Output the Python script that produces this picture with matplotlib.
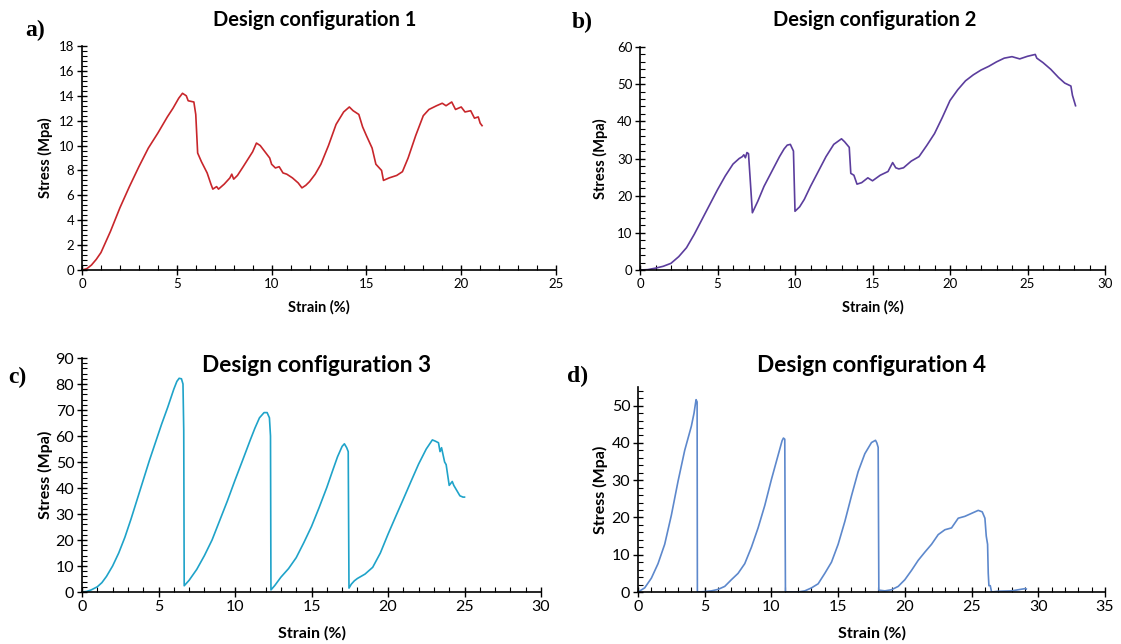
import matplotlib
matplotlib.use("Agg")
import matplotlib.pyplot as plt
from matplotlib.ticker import MultipleLocator, AutoMinorLocator

plt.rcParams['font.family'] = ['Lato', 'DejaVu Sans']

# ---- data ----
strain_1 = [0, 0.25, 0.5, 0.75, 1.0, 1.5, 2.0, 2.5, 3.0, 3.5, 4.0, 4.5, 4.8, 5.1, 5.3, 5.5, 5.6, 5.9, 6.0, 6.1, 6.3, 6.6,
            6.8, 6.9, 7.1, 7.2, 7.5, 7.8, 7.9, 8.0, 8.2, 8.5, 9.0, 9.2, 9.4, 9.7, 9.9, 10.0, 10.2, 10.4,
            10.6, 10.8, 11.1, 11.4, 11.6, 11.8, 12.0, 12.3, 12.6, 13.0, 13.4, 13.8, 14.1, 14.3, 14.6,
            14.8, 15.0, 15.3, 15.5, 15.8, 15.9, 16.2, 16.6, 16.9, 17.2, 17.6, 18.0, 18.3, 18.7, 19.0,
            19.2, 19.5, 19.7, 20.0, 20.2, 20.5, 20.7, 20.9, 21.0, 21.1]
stress_1 = [0, 0.1, 0.4, 0.85, 1.4, 3.1, 5.0, 6.7, 8.3, 9.8, 11.0, 12.3, 13.0, 13.8, 14.2, 14.0, 13.6, 13.5, 12.5, 9.4, 8.7, 7.8,
            6.9, 6.5, 6.7, 6.5, 6.9, 7.4, 7.7, 7.3, 7.6, 8.3, 9.5, 10.2, 10.0, 9.4, 9.0, 8.5, 8.2, 8.3,
            7.8, 7.7, 7.4, 7.0, 6.6, 6.8, 7.1, 7.7, 8.5, 10.0, 11.7, 12.7, 13.1, 12.8, 12.5,
            11.5, 10.8, 9.8, 8.5, 8.0, 7.2, 7.4, 7.6, 7.9, 9.0, 10.8, 12.4, 12.9, 13.2, 13.4,
            13.2, 13.5, 12.9, 13.1, 12.7, 12.8, 12.2, 12.3, 11.8, 11.6]

strain_2 = [0, 0.5, 1.0, 1.5, 2.0, 2.5, 3.0, 3.5, 4.0, 4.5, 5.0, 5.5, 6.0, 6.4, 6.6, 6.7, 6.8, 6.9, 7.0, 7.1,
            7.25, 7.6, 8.0, 8.5, 9.0, 9.3, 9.5, 9.7, 9.9, 10.0, 10.3, 10.6, 11.0, 11.5, 12.0, 12.5, 13.0, 13.2, 13.5, 13.6, 13.8,
            14.0, 14.3, 14.7, 15.0, 15.5, 16.0, 16.3, 16.5, 16.7, 17.0, 17.5, 18.0, 18.5, 19.0, 19.5, 20.0, 20.5, 21.0,
            21.5, 22.0, 22.5, 23.0, 23.5, 24.0, 24.5, 25.0, 25.5, 25.6, 26.0, 26.5, 27.0, 27.4, 27.8, 27.9, 28.1]
stress_2 = [0, 0.1, 0.5, 1.0, 1.8, 3.6, 6.0, 9.6, 13.6, 17.6, 21.6, 25.3, 28.5, 30.0, 30.5, 31.0, 30.2, 31.6, 31.3, 25.0,
            15.4, 18.5, 22.5, 26.5, 30.5, 32.6, 33.6, 33.8, 32.0, 15.8, 17.0, 19.0, 22.5, 26.5, 30.5, 33.8, 35.3, 34.5, 33.0, 26.0, 25.5,
            23.1, 23.5, 24.8, 24.0, 25.5, 26.5, 28.9, 27.5, 27.2, 27.5, 29.3, 30.5, 33.5, 36.7, 41.0, 45.6, 48.5, 50.9,
            52.5, 53.8, 54.8, 56.0, 57.0, 57.4, 56.8, 57.5, 58.0, 57.0, 55.8, 54.0, 51.8, 50.3, 49.5, 47.0, 44.2]

strain_3 = [0, 0.3, 0.6, 1.0, 1.3, 1.6, 2.0, 2.4, 2.8, 3.2, 3.6, 4.0, 4.4, 4.8, 5.2, 5.6, 5.8, 6.0, 6.2, 6.35,
            6.5, 6.6, 6.65, 6.68,
            7.0, 7.5, 8.0, 8.5, 9.0, 9.5, 10.0, 10.5, 11.0, 11.3, 11.6, 11.9, 12.1, 12.25, 12.32, 12.35,
            12.6, 13.0, 13.5, 14.0, 14.5, 15.0, 15.5, 16.0, 16.4, 16.7, 17.0, 17.15, 17.3, 17.4, 17.45,
            17.6, 17.8, 18.0, 18.5, 19.0, 19.5, 20.0, 20.5, 21.0, 21.5, 22.0, 22.5, 22.9, 23.1, 23.3, 23.4,
            23.5, 23.7, 23.8, 24.0, 24.2, 24.3, 24.5, 24.7, 24.9, 25.0]
stress_3 = [0, 0.2, 0.8, 2.0, 3.6, 6.0, 10.0, 15.0, 21.0, 28.0, 35.5, 43.0, 50.5, 57.5, 64.5, 71.0, 74.5, 78.0, 81.0, 82.2,
            82.0, 80.0, 62.0, 2.4,
            4.5, 8.7, 14.0, 20.0, 27.5, 35.0, 43.0, 50.7, 58.5, 63.0, 67.0, 69.0, 69.0, 67.0, 60.0, 0.8,
            2.5, 5.7, 9.0, 13.2, 19.0, 25.2, 32.5, 40.2, 47.0, 52.0, 56.0, 57.0, 55.5, 54.0, 1.5,
            3.0, 4.3, 5.2, 6.9, 9.5, 15.0, 22.2, 29.0, 35.7, 42.5, 49.2, 55.0, 58.5, 58.0, 57.4, 54.0,
            55.5, 50.0, 49.0, 41.0, 42.5, 41.0, 39.0, 37.0, 36.5, 36.5]

strain_4 = [0, 0.5, 1.0, 1.5, 2.0, 2.5, 3.0, 3.5, 4.0, 4.2, 4.35, 4.43, 4.45, 5.0, 5.5, 6.0, 6.5, 7.0, 7.5,
            8.0, 8.5, 9.0, 9.5, 10.0, 10.5, 10.8, 10.9, 11.0, 11.05, 12.0, 12.5, 13.0, 13.5, 14.0,
            14.5, 15.0, 15.5, 16.0, 16.5, 17.0, 17.5, 17.8, 17.9, 18.0, 18.05, 18.5, 19.0, 19.5, 20.0, 20.5, 21.0,
            21.5, 22.0, 22.5, 23.0, 23.5, 24.0, 24.5, 25.0, 25.5, 25.8, 26.0, 26.1, 26.2, 26.25, 26.3,
            26.4, 26.5, 27.0, 28.0, 29.0, 29.1]
stress_4 = [0, 1.1, 3.7, 7.6, 12.8, 20.6, 29.7, 38.0, 44.5, 48.0, 51.6, 51.0, 0.0, 0.1, 0.3, 0.7, 1.5, 3.3, 5.0,
            7.6, 12.0, 17.2, 23.2, 30.2, 36.7, 40.6, 41.3, 41.0, 0.0, 0.0, 0.3, 1.1, 2.2, 5.0,
            8.0, 12.8, 18.9, 25.8, 32.3, 37.1, 40.1, 40.7, 40.0, 38.8, 0.5, 0.3, 0.6, 1.5, 3.3, 5.8, 8.5,
            10.7, 12.8, 15.4, 16.7, 17.2, 19.8, 20.3, 21.1, 21.9, 21.5, 19.8, 15.0, 12.8, 5.0, 1.7,
            1.7, 0.0, 0.2, 0.3, 0.9, 0.8]

titles = ["Design configuration 1", "Design configuration 2", "Design configuration 3", "Design configuration 4"]
letters = ["a)", "b)", "c)", "d)"]
xlims = [25, 30, 30, 35]
ylims = [18, 60, 90, 55]
yticks_step = [2, 10, 10, 10]
colors = ["#c8262b", "#5b3d9d", "#1fa3c9", "#5d88cc"]

W, H = 1121, 644
fig = plt.figure(figsize=(W / 100, H / 100), dpi=100)

# axes rectangles in pixels: (x0, x1, y_bottom, y_top)
rects = [(82, 556, 270, 46), (640, 1105, 270, 47), (82, 541, 592, 358), (638, 1105, 592, 387)]
title_pos = [(315, 20), (875, 20), (317, 366), (872, 366)]
letter_pos = [(25, 30), (572, 22), (8, 377), (567, 376)]
xlabel_y = [307, 307, 633, 633]
ylabel_x = [45, 600, 45, 600]
tick_fs = [9.5, 9.5, 11.5, 11.5]
lab_fs = [10.5, 10.5, 11.5, 11.5]
title_fs = [14.5, 14.5, 16.3, 16.3]

data = [(strain_1, stress_1), (strain_2, stress_2), (strain_3, stress_3), (strain_4, stress_4)]

for i in range(4):
    x0, x1, yb, yt = rects[i]
    ax = fig.add_axes([x0 / W, (H - yb) / H, (x1 - x0) / W, (yb - yt) / H])
    xs, ys = data[i]
    ax.plot(xs, ys, color=colors[i], lw=1.2)
    ax.set_xlim(0, xlims[i])
    ax.set_ylim(0, ylims[i])
    ax.xaxis.set_major_locator(MultipleLocator(5))
    ax.xaxis.set_minor_locator(MultipleLocator(1))
    ax.yaxis.set_major_locator(MultipleLocator(yticks_step[i]))
    ax.yaxis.set_minor_locator(AutoMinorLocator(5))
    for s in ["top", "right"]:
        ax.spines[s].set_visible(False)
    for s in ["left", "bottom"]:
        ax.spines[s].set_linewidth(1.2)
    ax.tick_params(which="major", direction="inout", length=7, width=1, labelsize=tick_fs[i], pad=2)
    ax.tick_params(which="minor", direction="in", length=3.5, width=0.8)
    ax.patch.set_alpha(0)
    fig.text(title_pos[i][0] / W, 1 - title_pos[i][1] / H, titles[i], ha="center", va="center",
             fontsize=title_fs[i], fontweight="bold")
    fig.text(letter_pos[i][0] / W, 1 - letter_pos[i][1] / H, letters[i], ha="left", va="center",
             fontsize=17, fontweight="bold", family="Liberation Serif")
    fig.text(((x0 + x1) / 2) / W, 1 - xlabel_y[i] / H, "Strain (%)", ha="center", va="center",
             fontsize=lab_fs[i], fontweight="bold")
    fig.text(ylabel_x[i] / W, 1 - ((yb + yt) / 2) / H, "Stress (Mpa)", ha="center", va="center",
             rotation=90, fontsize=lab_fs[i], fontweight="bold")

fig.savefig("out.png", dpi=100)
